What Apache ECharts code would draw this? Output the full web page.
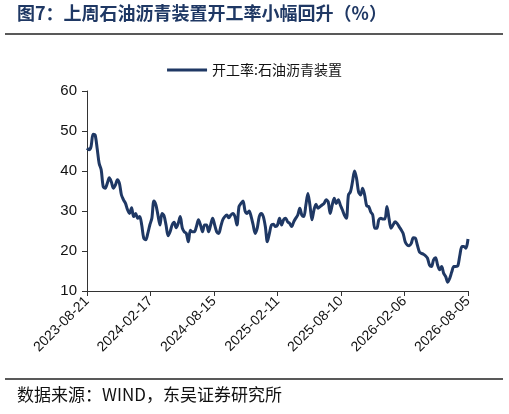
<!DOCTYPE html>
<html><head><meta charset="utf-8">
<script src="https://cdn.jsdelivr.net/npm/echarts@6/dist/echarts.min.js"></script>
<style>html,body{margin:0;padding:0;background:#fff}#c{width:509px;height:414px}</style>
</head><body><div id="c"></div>
<script>
var startDate = '2023-08-21';
var totalDays = 1080;
var seriesName = '开工率:石油沥青装置';
var values = [45.7,45.3,46.1,49.2,49,45.7,41.9,40.3,36.1,35.7,36.9,38.3,37.3,35.7,36.5,37.8,36.9,34,32.8,31.9,30.3,29.4,30.8,28.6,29.4,28.2,28.6,26.5,23.2,22.8,24.4,26.5,28.2,32.5,31.5,29,26.5,29.4,28.8,26.5,23.8,24.8,26.5,27.2,25.8,26.9,28.6,25.8,24.8,24.4,22.3,25.2,24.8,24.8,26.1,27.8,26.5,24.8,26.5,26.5,24.8,26.5,28.2,26.5,24.8,24.4,26.1,27.8,28.6,29,28.3,29,29.4,28.6,26.5,31.1,31.9,32.5,30,29.4,30,28.6,26.5,24.4,25.7,28.6,29.4,28.6,26.1,22.3,24.4,26.5,26.7,
26.1,26.5,28.2,26.5,27.8,28.2,27.3,26.9,26.1,27.3,28.2,29,30.7,29,28.6,31.5,34.4,31.5,27.8,30.3,31.7,30.7,31.1,31.5,31.9,32.8,32.3,29.4,31.5,33.2,31.9,32.8,31.5,30.3,29,28.2,34,34.8,37.3,40,38.2,34.8,34,35.7,34,31.3,31.1,29.8,29,25.7,25.7,27.8,28.2,28,28,31.1,28.2,25.7,26.5,27.3,26.9,26.1,25.3,24.4,22.3,21.5,21.3,21.9,23.3,23.2,21.5,19.8,19.4,19.2,18.8,18.2,16.5,16.1,17.8,18.3,16.5,15.3,16.1,14.4,13.6,12.2,13.2,14.8,16.1,16.1,16.3,19,21.1,21.1,20.7,23];
var yTicks = {min:10, max:60, interval:10};
var t0 = Date.parse(startDate + 'T00:00:00Z');
var data = values.map(function(v,i){ return [i*totalDays/(values.length-1), v]; });
function fmt(d){ return new Date(t0 + d*86400000).toISOString().slice(0,10); }
var chart = echarts.init(document.getElementById('c'));
chart.setOption({
  animation:false,
  graphic:[
    {type:'text', left:17, top:4, style:{text:'图7：上周石油沥青装置开工率小幅回升（%）', fill:'#1f3864', font:'bold 18px "Noto Sans CJK SC"'}},
    {type:'line', shape:{x1:5,y1:34,x2:503,y2:34}, style:{stroke:'#222', lineWidth:1.5}},
    {type:'line', shape:{x1:5,y1:379,x2:503,y2:379}, style:{stroke:'#222', lineWidth:1.5}},
    {type:'text', left:17, top:386, style:{text:'数据来源：WIND，东吴证券研究所', fill:'#111', font:'17px "Noto Sans CJK SC"'}}
  ],
  legend:{top:58, left:'center', itemWidth:40, itemHeight:3, icon:'rect', data:[seriesName],
    textStyle:{fontFamily:'"Noto Sans CJK SC"', fontSize:14, color:'#111'}},
  grid:{left:87, right:41, top:91, bottom:123},
  xAxis:{type:'value', min:0, max:totalDays, interval:180,
    axisLine:{lineStyle:{color:'#333'}}, axisTick:{show:true, lineStyle:{color:'#333'}},
    splitLine:{show:false},
    axisLabel:{rotate:45, formatter:fmt, color:'#111', fontSize:14, fontFamily:'"Liberation Sans"', margin:8}},
  yAxis:{type:'value', min:yTicks.min, max:yTicks.max, interval:yTicks.interval,
    axisLine:{show:true, lineStyle:{color:'#333'}}, axisTick:{show:true, lineStyle:{color:'#333'}},
    splitLine:{show:false},
    axisLabel:{color:'#111', fontSize:15, fontFamily:'"Liberation Sans"', margin:10}},
  series:[{name:seriesName, type:'line', data:data, showSymbol:false, smooth:0.3,
    lineStyle:{color:'#1f3864', width:3}, itemStyle:{color:'#1f3864'}}]
});
</script></body></html>
